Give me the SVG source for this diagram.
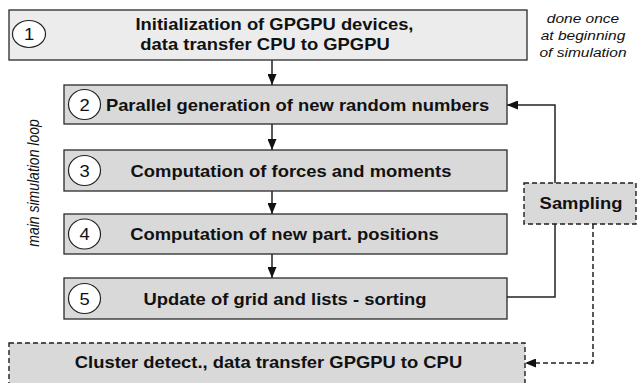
<svg xmlns="http://www.w3.org/2000/svg" width="639" height="383" viewBox="0 0 639 383">
<style>
.box{stroke:#2a2a2a;stroke-width:1.3}
.light{fill:#ececec}
.gray{fill:#d9d9d9}
.dash{stroke-dasharray:5 3;stroke:#1e1e1e;stroke-width:1.4}
.num{fill:#fff;stroke:#222;stroke-width:1.2}
.lbl{font-family:"Liberation Sans",Arial,sans-serif;font-weight:bold;font-size:16px;fill:#111;text-anchor:middle}
.dig{font-family:"Liberation Sans",Arial,sans-serif;font-size:16px;fill:#111;text-anchor:middle}
.note{font-family:"Liberation Sans",Arial,sans-serif;font-style:italic;font-size:13.5px;fill:#111;text-anchor:middle}
.side{font-family:"Liberation Sans",Arial,sans-serif;font-style:italic;font-size:14px;fill:#111;text-anchor:middle}
.line{fill:none;stroke:#222;stroke-width:1.5}
</style>
<defs>
<marker id="ah" markerUnits="userSpaceOnUse" markerWidth="11" markerHeight="9" refX="11" refY="4.5" orient="auto">
<path d="M0,0 L11,4.5 L0,9 Z" fill="#111"/>
</marker>
</defs>
<g id="connectors">
<path class="line" d="M272,60 V85" marker-end="url(#ah)"/>
<path class="line" d="M272,124 V150" marker-end="url(#ah)"/>
<path class="line" d="M272,191 V214" marker-end="url(#ah)"/>
<path class="line" d="M272,254 V278" marker-end="url(#ah)"/>
<path class="line" d="M507,297 H555 V105 H507" marker-end="url(#ah)"/>
<path class="line dash" d="M593,224 V363 H525" marker-end="url(#ah)"/>
</g>
<g id="node1">
<rect class="box light" x="9" y="10" width="518" height="50"/>
<ellipse class="num" cx="29" cy="34" rx="16.5" ry="13.5"/>
<text class="dig" transform="translate(29,40) scale(1.15,1)">1</text>
<text class="lbl" transform="translate(274.5,29.5) scale(1.15,1)">Initialization of GPGPU devices,</text>
<text class="lbl" transform="translate(265,50) scale(1.15,1)">data transfer CPU to GPGPU</text>
</g>
<g id="node2">
<rect class="box gray" x="64" y="85" width="443" height="39"/>
<ellipse class="num" cx="84.5" cy="104.5" rx="16" ry="15"/>
<text class="dig" transform="translate(84.5,110.5) scale(1.15,1)">2</text>
<text class="lbl" transform="translate(297.5,110.5) scale(1.15,1)">Parallel generation of new random numbers</text>
</g>
<g id="node3">
<rect class="box gray" x="64" y="150" width="443" height="41"/>
<ellipse class="num" cx="84.5" cy="170.5" rx="16" ry="15"/>
<text class="dig" transform="translate(84.5,176.5) scale(1.15,1)">3</text>
<text class="lbl" transform="translate(291,176.5) scale(1.15,1)">Computation of forces and moments</text>
</g>
<g id="node4">
<rect class="box gray" x="64" y="214" width="443" height="40"/>
<ellipse class="num" cx="84.5" cy="234" rx="16" ry="15"/>
<text class="dig" transform="translate(84.5,240) scale(1.15,1)">4</text>
<text class="lbl" transform="translate(284.5,240) scale(1.15,1)">Computation of new part. positions</text>
</g>
<g id="node5">
<rect class="box gray" x="64" y="278" width="443" height="41"/>
<ellipse class="num" cx="84.5" cy="298.5" rx="16" ry="15"/>
<text class="dig" transform="translate(84.5,304.5) scale(1.15,1)">5</text>
<text class="lbl" transform="translate(285,304.5) scale(1.15,1)">Update of grid and lists - sorting</text>
</g>
<g id="sampling">
<rect class="box gray dash" x="524" y="183" width="112" height="41"/>
<text class="lbl" transform="translate(581,208.5) scale(1.15,1)">Sampling</text>
</g>
<g id="cluster">
<rect class="box gray dash" x="9" y="343" width="516" height="46"/>
<text class="lbl" transform="translate(268.5,368) scale(1.15,1)">Cluster detect., data transfer GPGPU to CPU</text>
</g>
<g id="notes">
<text class="note" transform="translate(583,22.5) scale(1.15,1)">done once</text>
<text class="note" transform="translate(583,39.5) scale(1.15,1)">at beginning</text>
<text class="note" transform="translate(583,56.5) scale(1.15,1)">of simulation</text>
<text class="side" transform="translate(38.5,183) rotate(-90) scale(1,1.15)">main simulation loop</text>
</g>
</svg>
